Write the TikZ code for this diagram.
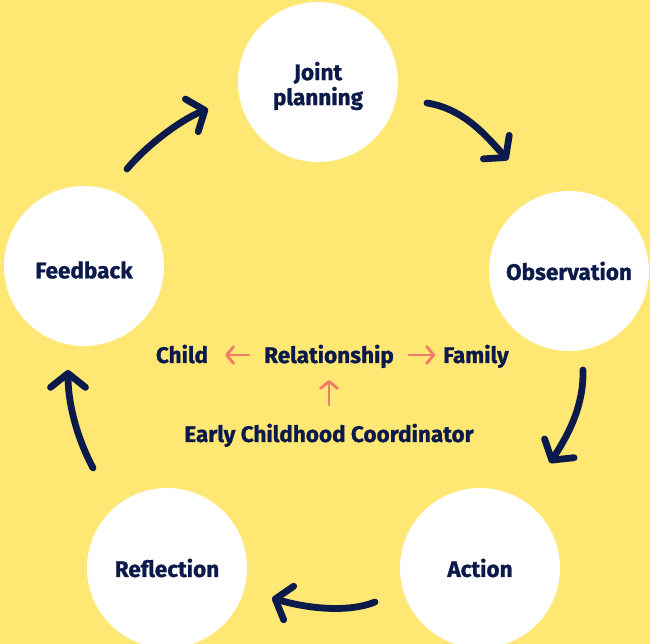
\documentclass[tikz,border=0pt]{standalone}
\usepackage{fontspec}
\setmainfont{Fira Sans}[BoldFeatures={FakeBold=1}]
\usepackage{tikz}
\usetikzlibrary{arrows.meta, positioning}
\definecolor{bgyellow}{RGB}{255,231,116}
\definecolor{navy}{RGB}{11,26,74}
\definecolor{salmon}{RGB}{242,123,104}

\begin{document}
\begin{tikzpicture}[x=1pt, y=1pt,
		stage/.style={circle, fill=white, minimum size=160pt, inner sep=0pt},
		stagelabel/.style={inner sep=0pt, align=center, text=navy, font=\bfseries\fontsize{22.5}{25}\selectfont},
		mid/.style={inner sep=0pt, text=navy, anchor=base, font=\bfseries\fontsize{22.5}{25}\selectfont},
		cyclearrow/.style={navy, line width=6.8pt, line cap=round, -{Straight Barb[length=14pt, width=35pt, round]}},
		linkarrow/.style={salmon, line width=2.8pt, line cap=round, -{Straight Barb[length=7pt, width=17pt, round]}}]
		\useasboundingbox (0,0) rectangle (650,644);
		\fill[bgyellow] (0,0) rectangle (650,644);
		\clip (0,0) rectangle (650,644);

			%stages:
			\node[stage, label={[stagelabel, yshift=-4pt]center:Joint\\planning}] (plan) at (318,562) {};
			\node[stage, label={[stagelabel]center:Observation}] (obs) at (569,373) {};
			\node[stage, label={[stagelabel]center:Action}] (act) at (480,76) {};
			\node[stage, label={[stagelabel]center:Reflection}] (refl) at (167,76) {};
			\node[stage, label={[stagelabel, yshift=-4pt]center:Feedback}] (feed) at (84,378) {};

			%cycle arrows
			\coordinate (f1) at (127,475); \coordinate (p1) at (208,535);
			\coordinate (p2) at (427,541); \coordinate (o1) at (508,484);
			\coordinate (o2) at (583,274); \coordinate (a1) at (550,181);
			\coordinate (a2) at (375,42);  \coordinate (r1) at (272,46);
			\coordinate (r2) at (93,176);  \coordinate (f2) at (68,274);
			\draw[cyclearrow] (f1) .. controls (145,497) and (180,524) .. (p1);
			\draw[cyclearrow] (p2) .. controls (465,535) and (488,506) .. (o1);
			\draw[cyclearrow] (o2) .. controls (584,234) and (564,203) .. (a1);
			\draw[cyclearrow] (a2) .. controls (345,30) and (302,37) .. (r1);
			\draw[cyclearrow] (r2) .. controls (75,210) and (68,244) .. (f2);

			%centre
			\node[mid] (rel) at (329,281) {Relationship};
			\node[mid] (child) at (182,281) {Child};
			\node[mid] (family) at (476,281) {Family};
			\node[mid] (coord) at (329,202) {Early Childhood Coordinator};
			\draw[linkarrow] ([xshift=-15pt, yshift=8pt]rel.base west) -- ([xshift=17pt, yshift=8pt]child.base east);
			\draw[linkarrow] ([xshift=15pt, yshift=8pt]rel.base east) -- ([xshift=-8pt, yshift=8pt]family.base west);
			\draw[linkarrow] ([yshift=37pt]coord.base) -- ([yshift=-17pt]rel.base);
	\end{tikzpicture}
\end{document}
